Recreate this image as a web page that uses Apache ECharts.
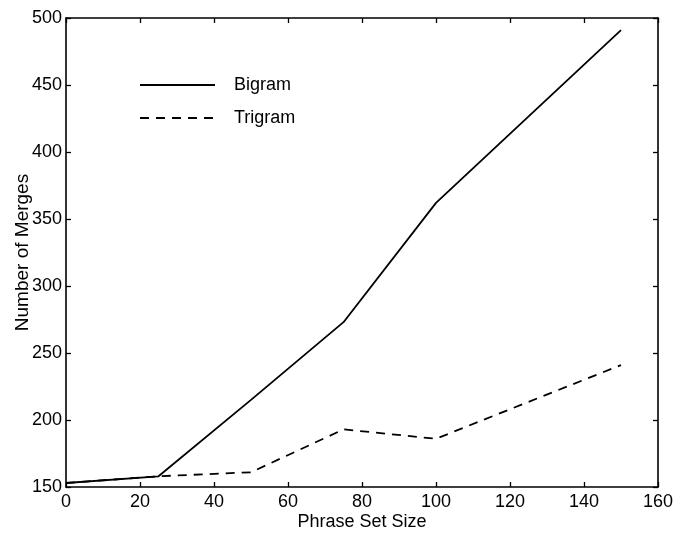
<!DOCTYPE html>
<html>
<head>
<meta charset="utf-8">
<script src="https://cdn.jsdelivr.net/npm/echarts@6/dist/echarts.min.js"></script>
<style>
  html, body { margin: 0; padding: 0; background: #fff; }
  #chart { width: 676px; height: 534px; }
</style>
</head>
<body>
<div id="chart"></div>
<script>
// Number of merges against phrase set size
const phraseSetSize = [0, 25, 50, 75, 100, 150];
const bigramMerges  = [153, 158, 215, 273, 362, 491];
const trigramMerges = [153, 158, 161, 193, 186, 241];
const xTicks = [0, 20, 40, 60, 80, 100, 120, 140, 160];
const yTicks = [150, 200, 250, 300, 350, 400, 450, 500];

const FONT = '"Liberation Sans", Arial, Helvetica, sans-serif';
const ink = '#000';

const pairs = (xs, ys) => xs.map((x, i) => [x, ys[i]]);

const frameAxis = {
  axisLine: { show: true, onZero: false, lineStyle: { color: ink, width: 1.6 } },
  axisTick: { show: true, inside: true, length: 5, lineStyle: { color: ink, width: 1.3 } },
  splitLine: { show: false }
};

const chart = echarts.init(document.getElementById('chart'), null, { renderer: 'canvas' });
chart.setOption({
  backgroundColor: '#fff',
  animation: false,
  grid: { left: 66, right: 18, top: 18, bottom: 47, outerBoundsMode: 'none', containLabel: false },
  legend: {
    orient: 'vertical',
    left: 134,
    top: 71,
    itemWidth: 75,
    itemHeight: 20,
    itemGap: 15,
    itemStyle: { opacity: 0 },
    textStyle: { fontFamily: FONT, fontSize: 18, color: ink, padding: [0, 0, 0, 14] },
    data: ['Bigram', 'Trigram']
  },
  xAxis: [
    Object.assign({
      type: 'value', min: xTicks[0], max: xTicks[xTicks.length - 1], interval: 20,
      name: 'Phrase Set Size', nameLocation: 'middle', nameGap: 26, nameMoveOverlap: false,
      nameTextStyle: { fontFamily: FONT, fontSize: 18, color: ink },
      axisLabel: { fontFamily: FONT, fontSize: 18, color: ink, margin: 6 }
    }, frameAxis),
    Object.assign({
      type: 'value', position: 'top', min: xTicks[0], max: xTicks[xTicks.length - 1], interval: 20,
      axisLabel: { show: false }
    }, frameAxis)
  ],
  yAxis: [
    Object.assign({
      type: 'value', min: yTicks[0], max: yTicks[yTicks.length - 1], interval: 50,
      name: 'Number of Merges', nameLocation: 'middle', nameGap: 34, nameMoveOverlap: false,
      nameTextStyle: { fontFamily: FONT, fontSize: 19, color: ink },
      axisLabel: { fontFamily: FONT, fontSize: 18, color: ink, margin: 4 }
    }, frameAxis),
    Object.assign({
      type: 'value', position: 'right', min: yTicks[0], max: yTicks[yTicks.length - 1], interval: 50,
      axisLabel: { show: false }
    }, frameAxis)
  ],
  series: [
    {
      name: 'Bigram', type: 'line', showSymbol: false, symbol: 'none',
      data: pairs(phraseSetSize, bigramMerges),
      lineStyle: { color: ink, width: 1.8, type: 'solid' },
      itemStyle: { color: ink }
    },
    {
      name: 'Trigram', type: 'line', showSymbol: false, symbol: 'none',
      data: pairs(phraseSetSize, trigramMerges),
      lineStyle: { color: ink, width: 1.8, type: [9, 7] },
      itemStyle: { color: ink }
    }
  ]
});
</script>
</body>
</html>
